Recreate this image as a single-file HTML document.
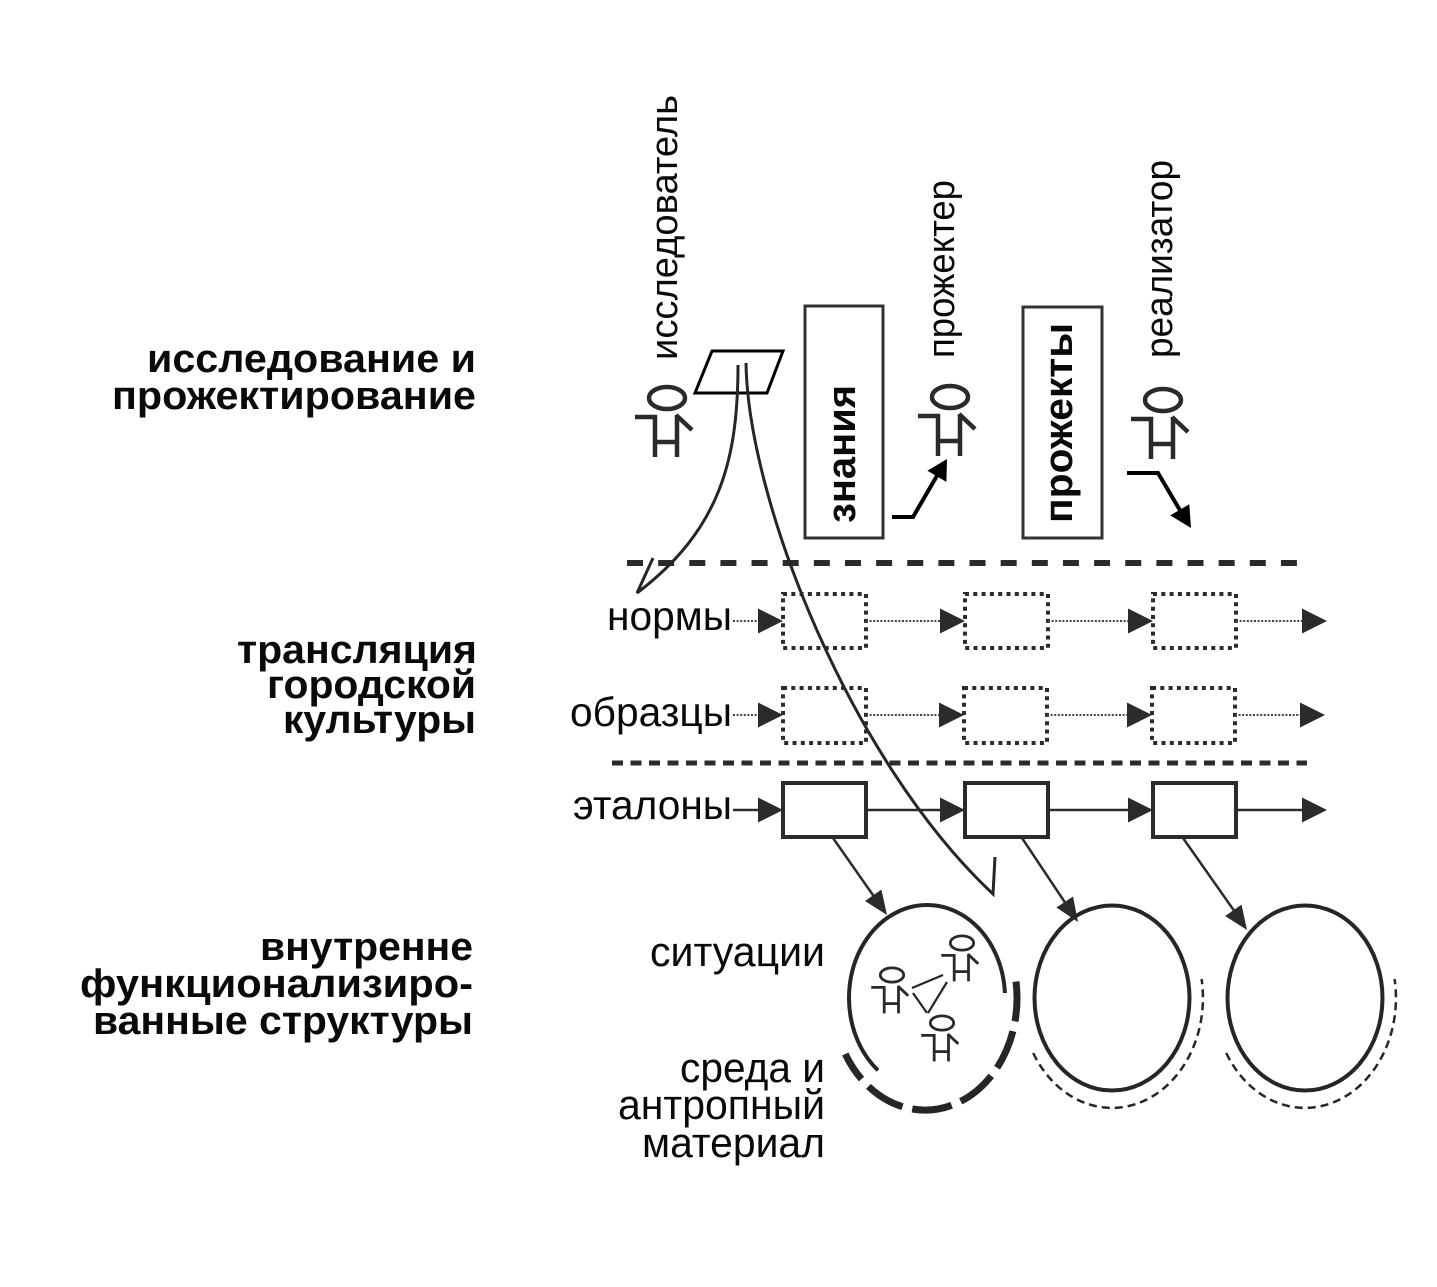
<!DOCTYPE html>
<html>
<head>
<meta charset="utf-8">
<style>
html,body{margin:0;padding:0;background:#fff;}
svg{display:block;}
text{font-family:"Liberation Sans",Arial,sans-serif;fill:#0a0a0a;}
.b{font-weight:bold;}
.fig{stroke:#2a2a2a;stroke-width:4.5;fill:none;stroke-linecap:butt;}
.dot{stroke:#444;stroke-width:2;stroke-dasharray:2 1.6;fill:none;}
.sol{stroke:#2b2b2b;stroke-width:2.5;fill:none;}
.dbox{stroke:#2b2b2b;stroke-width:4;stroke-dasharray:4 4.3;fill:none;}
.sbox{stroke:#2b2b2b;stroke-width:4;fill:none;}
.tri{fill:#2b2b2b;}
.cur{stroke:#262626;stroke-width:3;fill:none;}
</style>
</head>
<body>
<svg width="1437" height="1287" viewBox="0 0 1437 1287" xmlns="http://www.w3.org/2000/svg">
<rect width="1437" height="1287" fill="#fff"/>

<defs>
  <g id="man">
    <ellipse cx="0" cy="0" rx="18" ry="11"/>
    <polyline points="-32,19 -12,19 -12,59"/>
    <line x1="10" y1="17" x2="10" y2="59"/>
    <line x1="-12" y1="44" x2="10" y2="44"/>
    <line x1="9" y1="17" x2="25" y2="32"/>
  </g>
</defs>

<!-- left labels -->
<text class="b" x="147" y="372" font-size="40" textLength="329" lengthAdjust="spacingAndGlyphs">исследование и</text>
<text class="b" x="112" y="409" font-size="40" textLength="364" lengthAdjust="spacingAndGlyphs">прожектирование</text>
<text class="b" x="237" y="663" font-size="40" textLength="240" lengthAdjust="spacingAndGlyphs">трансляция</text>
<text class="b" x="267" y="698" font-size="40" textLength="209" lengthAdjust="spacingAndGlyphs">городской</text>
<text class="b" x="283" y="733" font-size="40" textLength="193" lengthAdjust="spacingAndGlyphs">культуры</text>
<text class="b" x="260" y="960" font-size="40" textLength="213" lengthAdjust="spacingAndGlyphs">внутренне</text>
<text class="b" x="80" y="997" font-size="40" textLength="393" lengthAdjust="spacingAndGlyphs">функционализиро-</text>
<text class="b" x="93" y="1034" font-size="40" textLength="380" lengthAdjust="spacingAndGlyphs">ванные структуры</text>

<!-- rotated top labels -->
<text transform="translate(677,360) rotate(-90)" font-size="38" textLength="265" lengthAdjust="spacingAndGlyphs">исследователь</text>
<text transform="translate(954,358) rotate(-90)" font-size="38" textLength="178" lengthAdjust="spacingAndGlyphs">прожектер</text>
<text transform="translate(1172,358) rotate(-90)" font-size="38" textLength="198" lengthAdjust="spacingAndGlyphs">реализатор</text>

<!-- boxes znaniya / prozhekty -->
<rect x="805" y="306" width="78" height="232" fill="none" stroke="#333" stroke-width="3"/>
<text class="b" transform="translate(855,523) rotate(-90)" font-size="40" textLength="138" lengthAdjust="spacingAndGlyphs">знания</text>
<rect x="1023" y="307" width="79" height="231" fill="none" stroke="#333" stroke-width="3"/>
<text class="b" transform="translate(1072,523) rotate(-90)" font-size="40" textLength="200" lengthAdjust="spacingAndGlyphs">прожекты</text>

<!-- figures -->
<use href="#man" class="fig" transform="translate(667,398)"/>
<use href="#man" class="fig" transform="translate(950,397)"/>
<use href="#man" class="fig" transform="translate(1163,400)"/>

<!-- parallelogram -->
<polygon points="712,351 783,351 767,393 695,393" fill="none" stroke="#000" stroke-width="3"/>

<!-- arrows from boxes -->
<polyline points="892,517 913,517 938,474" fill="none" stroke="#000" stroke-width="4"/>
<polygon points="947,459 946.4,481.9 927.4,470.7" fill="#000"/>
<polyline points="1127,473 1158,473 1181,512" fill="none" stroke="#000" stroke-width="4"/>
<polygon points="1191,528 1170.3,515.4 1189.3,504.2" fill="#000"/>

<!-- dashed separators -->
<line x1="627" y1="563" x2="1297" y2="563" stroke="#2b2b2b" stroke-width="6" stroke-dasharray="16 15.14"/>
<line x1="612" y1="763" x2="1307" y2="763" stroke="#2b2b2b" stroke-width="5" stroke-dasharray="11 7.5"/>

<!-- row labels -->
<text x="607" y="630" font-size="41" textLength="125" lengthAdjust="spacingAndGlyphs">нормы</text>
<text x="570" y="726" font-size="41" textLength="162" lengthAdjust="spacingAndGlyphs">образцы</text>
<text x="573" y="819" font-size="41" textLength="159" lengthAdjust="spacingAndGlyphs">эталоны</text>

<!-- norms row -->
<line class="dot" x1="733" y1="621" x2="760" y2="621"/>
<polygon class="tri" points="758,608.5 783,621 758,633.5"/>
<rect class="dbox" x="783" y="594" width="83" height="54"/>
<line class="dot" x1="866" y1="621" x2="942" y2="621"/>
<polygon class="tri" points="940,608.5 965,621 940,633.5"/>
<rect class="dbox" x="965" y="594" width="83" height="54"/>
<line class="dot" x1="1048" y1="621" x2="1130" y2="621"/>
<polygon class="tri" points="1128,608.5 1153,621 1128,633.5"/>
<rect class="dbox" x="1153" y="594" width="83" height="54"/>
<line class="dot" x1="1236" y1="621" x2="1304" y2="621"/>
<polygon class="tri" points="1302,608.5 1327,621 1302,633.5"/>

<!-- obraztsy row -->
<line class="dot" x1="733" y1="715" x2="760" y2="715"/>
<polygon class="tri" points="758,702.5 783,715 758,727.5"/>
<rect class="dbox" x="783" y="688" width="83" height="55"/>
<line class="dot" x1="866" y1="715" x2="941" y2="715"/>
<polygon class="tri" points="939,702.5 964,715 939,727.5"/>
<rect class="dbox" x="964" y="688" width="83" height="55"/>
<line class="dot" x1="1047" y1="715" x2="1129" y2="715"/>
<polygon class="tri" points="1127,702.5 1152,715 1127,727.5"/>
<rect class="dbox" x="1152" y="688" width="83" height="55"/>
<line class="dot" x1="1235" y1="715" x2="1302" y2="715"/>
<polygon class="tri" points="1300,702.5 1325,715 1300,727.5"/>

<!-- etalony row -->
<line class="sol" x1="733" y1="810" x2="760" y2="810"/>
<polygon class="tri" points="758,797.5 783,810 758,822.5"/>
<rect class="sbox" x="783" y="783" width="83" height="54"/>
<line class="sol" x1="866" y1="810" x2="942" y2="810"/>
<polygon class="tri" points="940,797.5 965,810 940,822.5"/>
<rect class="sbox" x="965" y="783" width="83" height="54"/>
<line class="sol" x1="1048" y1="810" x2="1130" y2="810"/>
<polygon class="tri" points="1128,797.5 1153,810 1128,822.5"/>
<rect class="sbox" x="1153" y="783" width="83" height="54"/>
<line class="sol" x1="1236" y1="810" x2="1304" y2="810"/>
<polygon class="tri" points="1302,797.5 1327,810 1302,822.5"/>

<!-- curves from parallelogram -->
<path class="cur" d="M738,365 C738,460 720,530 637,593 L653,558"/>
<path class="cur" d="M746,363 C748,500 850,760 993,894 L995,857"/>

<!-- arrows to circles -->
<line class="sol" x1="833" y1="838" x2="875" y2="898"/>
<polygon class="tri" points="887,915 865,901 881.4,889.6"/>
<line class="sol" x1="1022" y1="838" x2="1066" y2="904"/>
<polygon class="tri" points="1078,922 1056.4,907.5 1073,896.5"/>
<line class="sol" x1="1183" y1="838" x2="1235" y2="912"/>
<polygon class="tri" points="1247,930 1225.1,916 1241.5,904.6"/>

<!-- circle 1 -->
<path d="M878,1070.3 A78,93 0 1 1 1004.9,993.1" fill="none" stroke="#262626" stroke-width="4"/>
<path d="M845.3,1054 A92,112 0 0 0 1015.6,978.5" fill="none" stroke="#262626" stroke-width="7" stroke-dasharray="40 10" stroke-dashoffset="10"/>
<g class="fig" style="stroke-width:4.3">
  <use href="#man" transform="translate(892,975) scale(0.65)"/>
  <use href="#man" transform="translate(962,943) scale(0.65)"/>
  <use href="#man" transform="translate(942,1023) scale(0.65)"/>
</g>
<line x1="912" y1="988" x2="943" y2="975" stroke="#262626" stroke-width="2.2"/>
<line x1="913" y1="993" x2="927" y2="1013" stroke="#262626" stroke-width="2.2"/>
<line x1="947" y1="982" x2="928" y2="1013" stroke="#262626" stroke-width="2.2"/>

<!-- circle 2 -->
<ellipse cx="1112" cy="998" rx="77.5" ry="92.5" fill="none" stroke="#262626" stroke-width="4"/>
<path d="M1033.2,1053 A91,110 0 0 0 1201.6,979" fill="none" stroke="#262626" stroke-width="2.5" stroke-dasharray="8 5"/>

<!-- circle 3 -->
<ellipse cx="1305" cy="998" rx="77.5" ry="92.5" fill="none" stroke="#262626" stroke-width="4"/>
<path d="M1226.2,1053 A91,110 0 0 0 1394.6,979" fill="none" stroke="#262626" stroke-width="2.5" stroke-dasharray="8 5"/>

<!-- bottom labels -->
<text x="650" y="966" font-size="42" textLength="175" lengthAdjust="spacingAndGlyphs">ситуации</text>
<text x="680" y="1082" font-size="42" textLength="145" lengthAdjust="spacingAndGlyphs">среда и</text>
<text x="618" y="1119" font-size="42" textLength="207" lengthAdjust="spacingAndGlyphs">антропный</text>
<text x="642" y="1157" font-size="42" textLength="183" lengthAdjust="spacingAndGlyphs">материал</text>
</svg>
</body>
</html>
